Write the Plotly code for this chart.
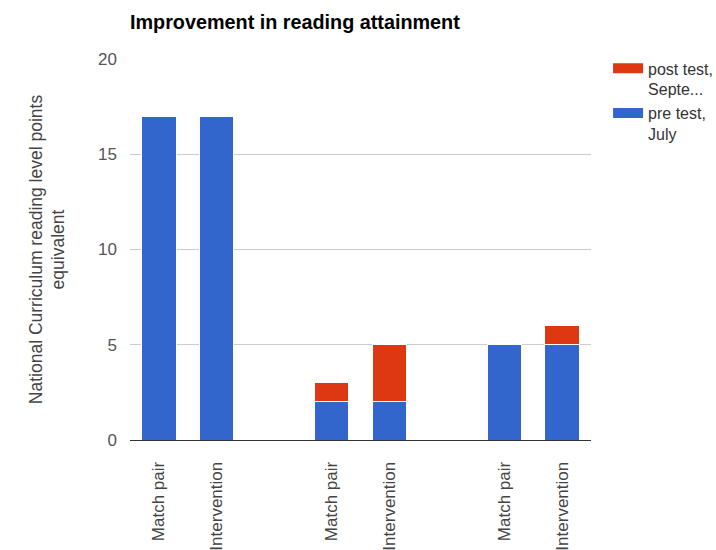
import plotly.graph_objects as go

positions = [0, 1, 3, 4, 6, 7]
labels = ["Match pair", "Intervention", "Match pair", "Intervention", "Match pair", "Intervention"]
pre_test = [17, 17, 2, 2, 5, 5]
post_increase = [0, 0, 1, 3, 0, 1]

BLUE = "#3366CC"
RED = "#DC3912"
FONT = "Liberation Sans, Arial, sans-serif"

fig = go.Figure()
fig.add_trace(go.Bar(x=positions, y=pre_test, name="pre test,<br>July", showlegend=False,
                     marker=dict(color=BLUE, line=dict(color="white", width=1))))
fig.add_trace(go.Bar(x=positions, y=post_increase, name="post test,<br>Septe...", showlegend=False,
                     marker=dict(color=RED, line=dict(color="white", width=1))))
# legend swatches (wide rectangles, like the reference)
fig.add_trace(go.Scatter(x=[None], y=[None], mode="lines", name="pre test,<br>July",
                         line=dict(color=BLUE, width=14), legendgroup="pre"))
fig.add_trace(go.Scatter(x=[None], y=[None], mode="lines", name="post test,<br>Septe...",
                         line=dict(color=RED, width=14), legendgroup="post"))

fig.update_layout(
    width=716, height=550,
    barmode="stack", bargap=0.4,
    plot_bgcolor="white", paper_bgcolor="white",
    margin=dict(l=130, r=125, t=59, b=110, autoexpand=False),
    font=dict(family=FONT, size=16, color="#444"),
    title=dict(text="<b>Improvement in reading attainment</b>", x=130/716, xanchor="left",
               y=1 - 22/550, yanchor="middle", font=dict(family=FONT, size=19.8, color="#000")),
    legend=dict(x=1.037, y=1.02, xanchor="left", yanchor="top", traceorder="reversed",
                valign="top", font=dict(size=16, color="#333"), itemwidth=30,
                tracegroupgap=18),
    xaxis=dict(tickmode="array", tickvals=positions, ticktext=labels, tickangle=-90,
               range=[-0.5, 7.5], showgrid=False, showline=True, linecolor="#333",
               linewidth=1, ticks="", zeroline=False, ticklabelstandoff=14, automargin=False,
               tickfont=dict(size=17, color="#444")),
    yaxis=dict(range=[0, 20], tickvals=[0, 5, 10, 15, 20], gridcolor="#CCCCCC",
               zeroline=False, ticks="", ticklabelstandoff=12, automargin=False,
               tickfont=dict(size=17, color="#555"),
               title=dict(text="National Curriculum reading level points<br>equivalent",
                          font=dict(size=17.5, color="#444"), standoff=28)),
)

fig.write_html("out.html")
